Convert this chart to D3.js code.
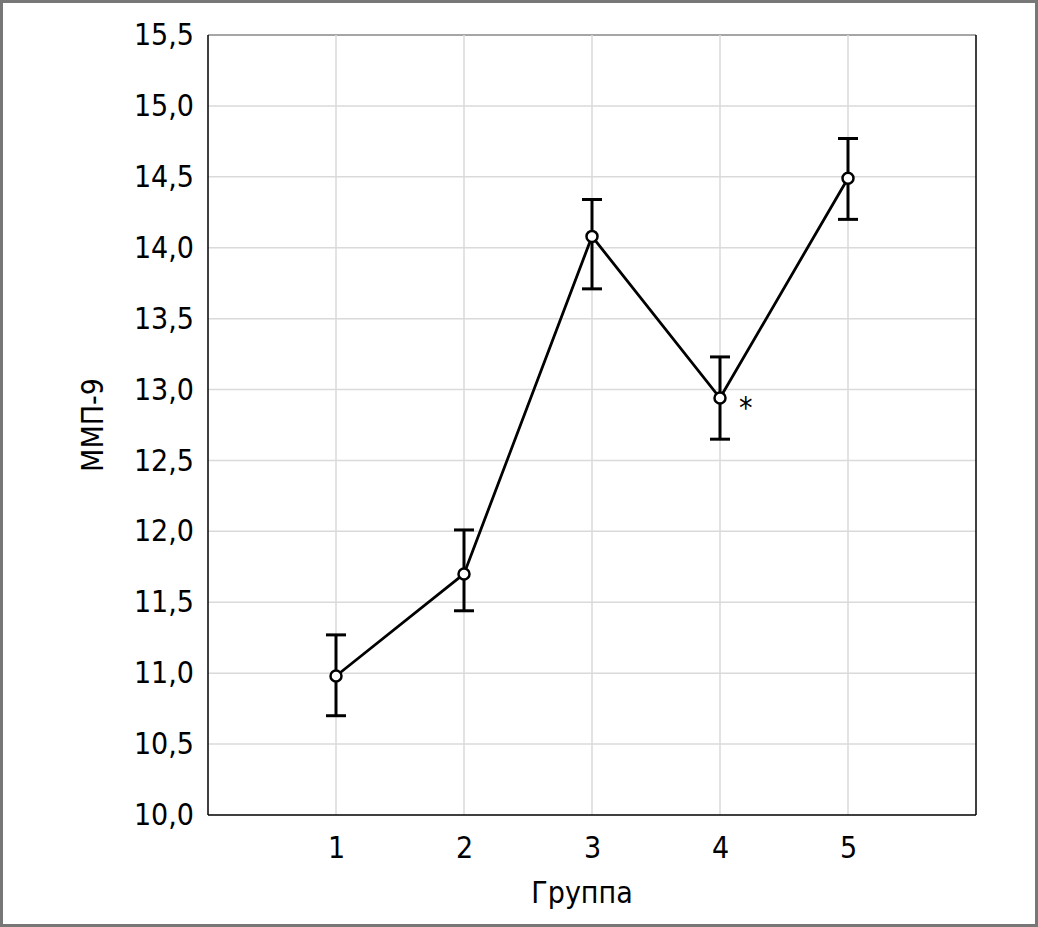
<!DOCTYPE html>
<html><head><meta charset="utf-8">
<script src="https://cdn.jsdelivr.net/npm/d3@7"></script>
<style>body{margin:0;background:#fff}svg{display:block}text{font-family:"DejaVu Sans Condensed","Liberation Sans Narrow",sans-serif;fill:#000}</style>
</head><body><svg id="c" width="1038" height="927"></svg>
<script>
const groups = [1, 2, 3, 4, 5];
const means = [10.98, 11.70, 14.08, 12.94, 14.49];
const upper = [11.27, 12.01, 14.34, 13.23, 14.77];
const lower = [10.70, 11.44, 13.71, 12.65, 14.20];
const marks = ["", "", "", "*", ""];
const yTicks = [10, 10.5, 11, 11.5, 12, 12.5, 13, 13.5, 14, 14.5, 15, 15.5];
const xLabel = "Группа", yLabel = "ММП-9";

const svg = d3.select("#c");
const W = 1038, H = 927;
const m = {l: 208, r: 976, t: 35, b: 815};
svg.append("rect").attr("x",1.5).attr("y",1.5).attr("width",W-3).attr("height",H-3).attr("fill","#fff").attr("stroke","#777").attr("stroke-width",3);
const x = d3.scaleLinear().domain([0,6]).range([m.l,m.r]);
const y = d3.scaleLinear().domain([10,15.5]).range([m.b,m.t]);
const fmt = v => d3.format(".1f")(v).replace(".", ",");

const g = svg.append("g");
g.selectAll(".hg").data(yTicks.slice(1)).join("line").attr("x1",m.l).attr("x2",m.r)
 .attr("y1",d=>y(d)).attr("y2",d=>y(d)).attr("stroke",d=>d===15.5?"#888":"#dadada").attr("stroke-width",1.5);
g.selectAll(".vg").data(groups).join("line").attr("y1",m.t).attr("y2",m.b)
 .attr("x1",d=>x(d)).attr("x2",d=>x(d)).attr("stroke","#dadada").attr("stroke-width",1.5);
g.append("line").attr("x1",m.l).attr("x2",m.l).attr("y1",m.t).attr("y2",m.b).attr("stroke","#000").attr("stroke-width",1.5);
g.append("line").attr("x1",m.r).attr("x2",m.r).attr("y1",m.t).attr("y2",m.b).attr("stroke","#000").attr("stroke-width",1.5);
g.append("line").attr("x1",m.l).attr("x2",m.r).attr("y1",m.b).attr("y2",m.b).attr("stroke","#000").attr("stroke-width",1.5);

const yAxis = d3.axisLeft(y).tickValues(yTicks).tickFormat(fmt).tickSize(0).tickPadding(14);
const ya = svg.append("g").attr("transform",`translate(${m.l},0)`).call(yAxis);
ya.select(".domain").remove();
ya.selectAll("text").style("font-size","30px").attr("font-family",null);
const xAxis = d3.axisBottom(x).tickValues(groups).tickFormat(d3.format("d")).tickSize(0).tickPadding(22);
const xa = svg.append("g").attr("transform",`translate(0,${m.b})`).call(xAxis);
xa.select(".domain").remove();
xa.selectAll("text").style("font-size","30px").attr("font-family",null);

const eb = g.selectAll(".eb").data(groups).join("g");
eb.append("line").attr("x1",d=>x(d)).attr("x2",d=>x(d)).attr("y1",(d,i)=>y(upper[i])).attr("y2",(d,i)=>y(lower[i])).attr("stroke","#000").attr("stroke-width",3);
eb.append("line").attr("x1",d=>x(d)-10).attr("x2",d=>x(d)+10).attr("y1",(d,i)=>y(upper[i])).attr("y2",(d,i)=>y(upper[i])).attr("stroke","#000").attr("stroke-width",3);
eb.append("line").attr("x1",d=>x(d)-10).attr("x2",d=>x(d)+10).attr("y1",(d,i)=>y(lower[i])).attr("y2",(d,i)=>y(lower[i])).attr("stroke","#000").attr("stroke-width",3);
const line = d3.line().x((d,i)=>x(groups[i])).y(d=>y(d));
g.append("path").datum(means).attr("d",line).attr("fill","none").attr("stroke","#000").attr("stroke-width",2.8);
g.selectAll(".pt").data(means).join("circle").attr("cx",(d,i)=>x(groups[i])).attr("cy",d=>y(d)).attr("r",5.5).attr("fill","#fff").attr("stroke","#000").attr("stroke-width",2.5);
g.selectAll(".mk").data(groups).join("text").attr("x",d=>x(d)+19).attr("y",(d,i)=>y(means[i])+20).style("font-size","30px").text((d,i)=>marks[i]);

svg.append("text").attr("x",582).attr("y",903).attr("text-anchor","middle").style("font-size","30px").text(xLabel);
svg.append("text").attr("transform",`translate(103,${(m.t+m.b)/2}) rotate(-90)`).attr("text-anchor","middle").style("font-size","30px").text(yLabel);
</script></body></html>
